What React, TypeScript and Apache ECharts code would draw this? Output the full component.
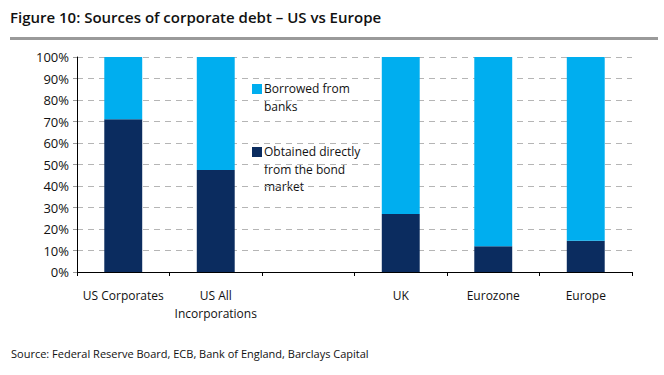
import React, { useEffect, useRef } from "react";
import * as echarts from "echarts";

const categories = ["US Corporates", "US All\nIncorporations", "", "UK", "Eurozone", "Europe"];
const bondMarket = [71, 47.5, null, 27, 12, 14.5];
const banks = [29, 52.5, null, 73, 88, 85.5];
const yTicks = [0, 10, 20, 30, 40, 50, 60, 70, 80, 90, 100];
const seriesNames = ["Obtained directly\nfrom the bond\nmarket", "Borrowed from\nbanks"];

const DARK = "#0b2c5f";
const LIGHT = "#00aeef";
const FONT = "'Open Sans', 'DejaVu Sans', sans-serif";

export default function App() {
  const ref = useRef<HTMLDivElement>(null);
  useEffect(() => {
    if (!ref.current) return;
    const chart = echarts.init(ref.current, null, { renderer: "svg" });
    chart.setOption({
      animation: false,
      textStyle: { fontFamily: FONT },
      grid: { left: 77, right: 32, top: 57, bottom: 103 },
      xAxis: {
        type: "category",
        data: categories,
        axisLine: { lineStyle: { color: "#000", width: 1 } },
        axisTick: { show: true, length: 4, lineStyle: { color: "#000" } },
        axisLabel: { interval: 0, color: "#111", fontSize: 12, margin: 14, lineHeight: 18, fontFamily: FONT },
      },
      yAxis: {
        type: "value",
        min: yTicks[0],
        max: yTicks[yTicks.length - 1],
        interval: 10,
        axisLine: { show: true, lineStyle: { color: "#000" } },
        axisTick: { show: true, length: 4, lineStyle: { color: "#999", type: "solid" } },
        axisLabel: { color: "#111", fontSize: 13, margin: 8, formatter: (v: number) => v + "%", fontFamily: FONT },
        splitLine: { show: true, lineStyle: { color: "#b5b5b5", type: [6, 5], width: 1 } },
      },
      series: [
        {
          name: seriesNames[0],
          type: "bar",
          stack: "t",
          data: bondMarket,
          barWidth: "41%",
          itemStyle: { color: DARK },
        },
        {
          name: seriesNames[1],
          type: "bar",
          stack: "t",
          data: banks,
          barWidth: "41%",
          itemStyle: { color: LIGHT },
        },
      ],
      graphic: [
        {
          type: "text",
          left: 10,
          top: 9,
          style: { text: "Figure 10: Sources of corporate debt – US vs Europe", fontSize: 15, fontWeight: 600, fill: "#111", fontFamily: FONT },
        },
        { type: "rect", shape: { x: 10, y: 37, width: 648, height: 3 }, style: { fill: "#9a9a9a" } },
        { type: "rect", shape: { x: 252, y: 84, width: 10, height: 10 }, style: { fill: LIGHT } },
        {
          type: "text",
          x: 264,
          y: 80,
          style: { text: seriesNames[1], fontSize: 12, lineHeight: 17.5, fill: "#111", fontFamily: FONT },
        },
        { type: "rect", shape: { x: 252, y: 147, width: 10, height: 10 }, style: { fill: DARK } },
        {
          type: "text",
          x: 264,
          y: 143,
          style: { text: seriesNames[0], fontSize: 12, lineHeight: 17.5, fill: "#111", fontFamily: FONT },
        },
        {
          type: "text",
          left: 11,
          top: 348,
          style: { text: "Source: Federal Reserve Board, ECB, Bank of England, Barclays Capital", fontSize: 11, fill: "#111", fontFamily: FONT },
        },
      ],
    });
    return () => chart.dispose();
  }, []);
  return <div ref={ref} style={{ width: 664, height: 375, position: "absolute", left: 0, top: 0, background: "#fff" }} />;
}
